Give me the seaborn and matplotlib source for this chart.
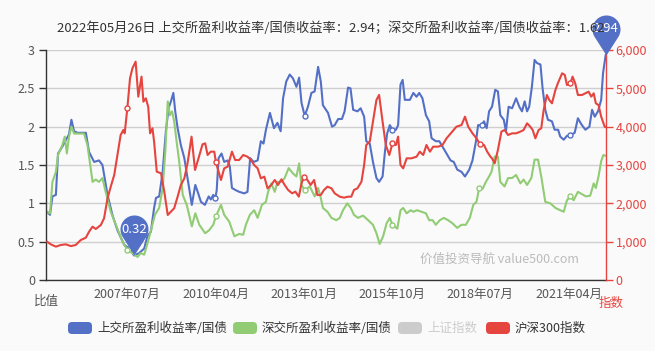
import numpy as np
import pandas as pd
import matplotlib
matplotlib.use('Agg')
import matplotlib.pyplot as plt
import matplotlib.dates as mdates
from matplotlib.path import Path
from matplotlib.patches import FancyBboxPatch
from matplotlib.transforms import IdentityTransform
from matplotlib.ticker import FuncFormatter
import seaborn as sns

sns.set_style('white')
plt.rcParams['font.family'] = ['Noto Sans CJK SC', 'DejaVu Sans']
plt.rcParams['axes.unicode_minus'] = False

# ---------------- data (months since 2005-01) ----------------
blue_m = [0.0, 1.1, 2.0, 3.3, 4.1, 5.7, 7.4, 8.2, 9.1, 10.1,
          11.4, 14.5, 15.7, 17.6, 19.4, 20.7, 22.6, 24.4, 26.3, 28.8,
          30.7, 32.5, 34.4, 36.3, 37.5, 38.8, 40.0, 40.7, 41.9, 43.2,
          44.4, 45.4, 46.3, 47.2, 47.9, 48.8, 50.0, 51.3, 52.5, 54.1,
          55.4, 56.3, 57.5, 59.0, 60.4, 61.2, 62.1, 62.9, 63.4, 64.1,
          65.2, 66.2, 67.5, 68.3, 69.1, 70.6, 71.8, 73.7, 74.9, 75.9,
          77.2, 78.7, 79.9, 80.9, 81.8, 83.3, 84.8, 86.1, 87.3, 88.2,
          89.4, 90.7, 91.9, 93.2, 94.2, 95.1, 96.3, 97.5, 98.8, 100.0,
          101.3, 102.3, 103.1, 105.0, 106.5, 107.5, 108.8, 110.2, 111.2, 112.5,
          113.4, 114.4, 116.0, 117.2, 118.5, 119.3, 120.6, 121.8, 123.1, 124.1,
          125.4, 126.3, 127.1, 128.1, 129.1, 130.4, 131.2, 132.1, 132.9, 133.7,
          135.6, 136.9, 138.1, 139.1, 140.3, 141.6, 142.8, 143.7, 145.3, 146.6,
          148.1, 149.6, 150.8, 152.0, 153.3, 154.9, 156.2, 157.8, 159.0, 160.3,
          161.1, 162.4, 163.3, 164.3, 165.2, 166.3, 167.5, 168.5, 169.4, 170.7,
          171.5, 172.5, 173.8, 175.3, 176.5, 177.5, 178.5, 179.4, 180.2, 181.2,
          182.2, 183.1, 184.4, 185.2, 186.2, 187.2, 188.7, 189.7, 191.0, 191.8,
          193.1, 194.3, 195.6, 197.2, 198.4, 199.7, 201.2, 202.7, 203.7, 204.7,
          205.9, 207.1, 207.8, 208.8]
blue_v = [0.89, 0.85, 1.09, 1.11, 1.65, 1.74, 1.85, 1.90, 2.09, 1.94,
          1.92, 1.92, 1.67, 1.54, 1.56, 1.50, 1.11, 0.85, 0.65, 0.46,
          0.41, 0.32, 0.35, 0.41, 0.57, 0.63, 0.94, 1.07, 1.09, 1.41,
          1.94, 2.24, 2.33, 2.44, 2.20, 1.98, 1.76, 1.59, 1.33, 0.98,
          1.24, 1.15, 1.02, 0.98, 1.09, 1.05, 1.11, 1.07, 1.17, 1.59,
          1.65, 1.54, 1.56, 1.48, 1.20, 1.17, 1.15, 1.13, 1.15, 1.59,
          1.54, 1.56, 1.81, 1.78, 1.96, 2.18, 1.98, 2.05, 1.94, 2.37,
          2.59, 2.68, 2.63, 2.52, 2.64, 2.31, 2.14, 2.26, 2.44, 2.46,
          2.78, 2.59, 2.28, 2.18, 2.00, 2.02, 2.10, 2.10, 2.20, 2.51,
          2.50, 2.22, 2.20, 2.24, 2.13, 1.81, 1.78, 1.54, 1.33, 1.28,
          1.35, 1.68, 1.91, 2.02, 1.96, 1.96, 2.02, 2.55, 2.61, 2.35,
          2.35, 2.44, 2.39, 2.44, 2.37, 2.15, 2.07, 1.85, 1.81, 1.81,
          1.72, 1.63, 1.56, 1.54, 1.44, 1.41, 1.35, 1.44, 1.56, 1.81,
          2.02, 2.02, 2.07, 1.98, 2.20, 2.26, 2.48, 2.46, 2.15, 2.09,
          1.94, 2.26, 2.24, 2.37, 2.26, 2.20, 2.33, 2.20, 2.26, 2.52,
          2.87, 2.83, 2.81, 2.50, 2.22, 2.09, 2.07, 1.96, 1.96, 1.87,
          1.83, 1.88, 1.89, 1.92, 2.11, 2.03, 1.96, 2.00, 2.22, 2.13,
          2.20, 2.35, 2.70, 2.94]

green_m = [0.0, 1.1, 2.0, 3.3, 4.1, 5.7, 6.6, 7.4, 8.2, 9.1,
           10.1, 13.8, 15.1, 17.0, 18.2, 19.4, 20.7, 21.9, 23.8, 26.3,
           28.2, 30.0, 31.9, 33.8, 35.0, 36.3, 38.1, 40.3, 41.9, 43.2,
           44.2, 45.1, 45.9, 46.7, 47.5, 48.4, 49.4, 50.7, 52.2, 54.1,
           55.4, 56.9, 59.1, 60.6, 62.1, 63.1, 65.0, 66.2, 68.1, 70.0,
           71.8, 73.3, 74.3, 75.8, 77.4, 78.7, 80.3, 81.8, 82.6, 83.8,
           85.1, 86.1, 87.6, 88.8, 90.3, 91.9, 93.2, 94.2, 95.1, 96.3,
           98.2, 100.0, 101.3, 102.3, 103.1, 104.8, 106.3, 108.1, 109.4, 110.6,
           112.2, 113.5, 114.7, 116.2, 118.1, 120.0, 121.8, 123.1, 124.3, 125.6,
           126.9, 128.1, 129.1, 130.9, 132.1, 133.1, 134.4, 135.9, 136.9, 138.3,
           140.0, 141.6, 142.8, 144.1, 145.3, 146.8, 148.3, 149.9, 151.5, 153.3,
           154.9, 156.5, 158.0, 159.3, 160.5, 161.5, 162.8, 164.0, 165.2, 166.1,
           167.3, 168.5, 169.4, 171.0, 172.3, 173.8, 175.3, 176.9, 178.1, 179.4,
           181.0, 182.2, 183.5, 184.7, 186.2, 188.1, 190.0, 191.8, 193.1, 194.3,
           195.6, 196.8, 198.4, 199.9, 201.4, 203.0, 204.3, 205.1, 206.1, 207.1,
           207.9, 208.8]
green_v = [0.89, 0.87, 1.28, 1.41, 1.63, 1.76, 1.87, 1.65, 1.87, 2.00,
           1.91, 1.91, 1.76, 1.28, 1.31, 1.28, 1.33, 1.15, 0.89, 0.67,
           0.50, 0.39, 0.35, 0.30, 0.35, 0.33, 0.55, 0.85, 0.94, 1.20,
           1.68, 2.33, 2.15, 2.20, 2.07, 1.81, 1.54, 1.11, 0.98, 0.70,
           0.87, 0.72, 0.61, 0.65, 0.72, 0.83, 0.98, 0.85, 0.76, 0.57,
           0.60, 0.59, 0.72, 0.85, 0.91, 0.81, 0.98, 1.02, 1.15, 1.26,
           1.15, 1.28, 1.28, 1.33, 1.46, 1.39, 1.35, 1.52, 1.24, 1.17,
           1.22, 1.09, 1.20, 1.07, 0.94, 0.89, 0.81, 0.78, 0.81, 0.91,
           1.00, 0.94, 0.85, 0.81, 0.84, 0.78, 0.72, 0.61, 0.47, 0.57,
           0.74, 0.81, 0.72, 0.67, 0.91, 0.94, 0.87, 0.91, 0.89, 0.91,
           0.89, 0.87, 0.78, 0.78, 0.72, 0.78, 0.81, 0.78, 0.74, 0.68,
           0.72, 0.72, 0.81, 0.98, 1.02, 1.20, 1.19, 1.28, 1.35, 1.41,
           1.61, 1.61, 1.28, 1.22, 1.33, 1.33, 1.37, 1.26, 1.31, 1.24,
           1.33, 1.57, 1.57, 1.35, 1.02, 1.00, 0.94, 0.91, 0.89, 1.04,
           1.09, 1.04, 1.15, 1.12, 1.09, 1.10, 1.26, 1.20, 1.35, 1.55,
           1.63, 1.62]

red_m = [0.0, 1.4, 3.3, 5.1, 7.0, 8.9, 10.7, 12.6, 14.5, 15.7,
         17.0, 18.2, 20.1, 21.3, 22.6, 23.8, 25.1, 26.3, 27.5, 28.5,
         29.0, 30.0, 31.0, 31.9, 33.1, 34.1, 35.3, 36.0, 36.9, 37.8,
         38.5, 39.4, 40.0, 41.0, 42.6, 43.8, 45.1, 46.3, 47.5, 48.8,
         50.0, 51.3, 52.5, 54.0, 55.3, 56.6, 58.1, 59.1, 60.0, 61.2,
         62.5, 63.1, 65.0, 66.2, 67.5, 69.1, 70.3, 71.8, 73.3, 74.9,
         76.2, 77.4, 78.7, 79.9, 81.2, 82.4, 83.8, 85.1, 86.3, 87.6,
         88.8, 90.1, 91.6, 92.8, 94.1, 95.1, 96.1, 97.3, 98.5, 99.8,
         101.0, 102.3, 103.5, 104.8, 106.3, 107.5, 109.4, 111.0, 112.5, 113.7,
         114.7, 116.0, 117.5, 118.5, 119.3, 120.6, 121.8, 123.1, 124.1, 125.4,
         126.6, 127.9, 129.1, 130.4, 131.2, 132.1, 133.1, 134.4, 136.2, 138.1,
         139.3, 140.6, 141.8, 143.1, 144.3, 146.2, 147.8, 149.3, 151.2, 153.0,
         154.9, 156.2, 157.4, 159.0, 160.5, 161.8, 163.3, 164.5, 165.7, 166.3,
         167.3, 168.5, 169.8, 171.0, 172.3, 173.8, 175.3, 176.9, 178.1, 179.4,
         180.6, 181.5, 182.5, 183.7, 184.7, 185.6, 186.8, 187.7, 188.7, 190.0,
         190.9, 192.5, 193.5, 194.3, 195.6, 196.4, 197.4, 198.4, 199.9, 201.2,
         202.4, 203.4, 204.3, 205.1, 206.1, 207.1, 208.4, 208.8]
red_v = [1000, 930, 870, 913, 930, 885, 913, 1043, 1104, 1261,
         1392, 1331, 1435, 1609, 2131, 2435, 2740, 3261, 3783, 3913,
         3826, 4479, 5261, 5522, 5696, 4783, 5305, 4652, 4740, 4522,
         3826, 3957, 3609, 2826, 2783, 2305, 1696, 1783, 1870, 2174,
         2478, 2652, 3044, 3739, 2870, 3174, 3540, 3565, 3261, 3348,
         3348, 3070, 2609, 2913, 2957, 3348, 3130, 3130, 3261, 3217,
         3130, 3000, 2913, 2652, 2696, 2391, 2478, 2609, 2478, 2626,
         2478, 2348, 2261, 2305, 2174, 2522, 2696, 2609, 2478, 2609,
         2217, 2217, 2348, 2435, 2391, 2261, 2174, 2148, 2174, 2174,
         2348, 2391, 2565, 3000, 3522, 3609, 4131, 4696, 4827, 4131,
         3522, 3261, 3565, 3522, 3739, 3000, 2913, 3174, 3174, 3217,
         3348, 3261, 3522, 3348, 3478, 3478, 3522, 3696, 3852, 4000,
         4043, 4261, 4000, 3826, 3696, 3540, 3522, 3348, 3217, 3174,
         3044, 3391, 3870, 3913, 3783, 3826, 3826, 3870, 3913, 4087,
         4000, 3913, 3696, 3913, 3957, 4435, 4826, 4696, 4609, 4957,
         5131, 5392, 5348, 5087, 5131, 5305, 5131, 4826, 4826, 4870,
         4913, 4783, 4870, 4609, 4565, 4261, 4000, 3985]

tick_labels_dates = ['2007-07-01', '2010-04-01', '2013-01-01', '2015-10-01', '2018-07-01', '2021-04-01']
last_date = '2022-05-26'
legend_labels = ['上交所盈利收益率/国债', '深交所盈利收益率/国债', '上证指数', '沪深300指数']

BLUE, GREEN, GREY, RED = '#5470c6', '#91cc75', '#cccccc', '#e5443f'

base = pd.Timestamp('2005-01-01')
def to_dates(ms):
    return base + pd.to_timedelta(np.asarray(ms, dtype=float) * 30.4375, unit='D')

blue_d, green_d, red_d = to_dates(blue_m), to_dates(green_m), to_dates(red_m)
tick_d = pd.to_datetime(tick_labels_dates)

def nearest_idx(dates):
    return sorted({int(np.argmin(np.abs((dates - t).total_seconds()))) for t in tick_d})

# ---------------- figure ----------------
W, H = 655, 351
fig = plt.figure(figsize=(W / 100, H / 100), dpi=100, facecolor='#fafafa')
L, R, T, B = 46, 606, 50, 280
ax = fig.add_axes([L / W, 1 - B / H, (R - L) / W, (B - T) / H])
ax.set_facecolor('none')
ax2 = ax.twinx()

lw = 1.5
mk = dict(marker='o', markersize=3.6, markerfacecolor='white', markeredgewidth=1.0)
sns.lineplot(x=blue_d, y=blue_v, ax=ax, color=BLUE, linewidth=lw, errorbar=None,
             markevery=nearest_idx(blue_d), markeredgecolor=BLUE, **mk)
sns.lineplot(x=green_d, y=green_v, ax=ax, color=GREEN, linewidth=lw, errorbar=None,
             markevery=nearest_idx(green_d), markeredgecolor=GREEN, **mk)
sns.lineplot(x=red_d, y=red_v, ax=ax2, color=RED, linewidth=lw, errorbar=None,
             markevery=nearest_idx(red_d), markeredgecolor=RED, **mk)

xmin = base + pd.to_timedelta(-0.4 * 30.4375, unit='D')
xmax = base + pd.to_timedelta(208.9 * 30.4375, unit='D')
ax.set_xlim(xmin, xmax)
ax.set_ylim(0, 3)
ax2.set_ylim(0, 6000)
ax.set_yticks(np.arange(0, 3.01, 0.5))
ax2.set_yticks(np.arange(0, 6001, 1000))
ax.yaxis.set_major_formatter(FuncFormatter(lambda v, p: f'{v:g}'))
ax2.yaxis.set_major_formatter(FuncFormatter(lambda v, p: f'{int(v):,}'))
ax.set_xticks(tick_d)
ax.xaxis.set_major_formatter(mdates.DateFormatter('%Y年%m月'))
ax.set_xlabel('')
ax.set_ylabel('')
ax2.set_ylabel('')

ax.grid(axis='y', color='#cfcfcf', linewidth=1)
ax.grid(axis='x', visible=False)
ax.set_axisbelow(True)

for s in ['top', 'right']:
    ax.spines[s].set_visible(False)
for s in ['left', 'bottom']:
    ax.spines[s].set_color('#333333')
    ax.spines[s].set_linewidth(1)
for s in ['top', 'left', 'bottom']:
    ax2.spines[s].set_visible(False)
ax2.spines['right'].set_color(RED)
ax2.spines['right'].set_linewidth(1)

ax.tick_params(axis='y', direction='out', length=5, width=1, color='#333333',
               labelcolor='#555555', labelsize=9, pad=3)
ax.tick_params(axis='x', direction='out', length=5, width=1, color='#333333',
               labelcolor='#555555', labelsize=9, pad=1)
ax2.tick_params(axis='y', direction='out', length=5, width=1, color=RED,
                labelcolor=RED, labelsize=9, pad=2)

# ---------------- pins (min / max of blue series) ----------------
ax3 = ax.twinx()
ax3.set_ylim(0, 3)
ax3.axis('off')

def pin_path():
    r, c = 1.0, 1.857
    alpha = np.arccos(r / c)
    a0 = -np.pi / 2 + alpha
    a1 = -np.pi / 2 - alpha + 2 * np.pi
    ang = np.linspace(a0, a1, 80)
    verts = [(0, 0)] + [(r * np.cos(a), c + r * np.sin(a)) for a in ang] + [(0, 0)]
    codes = [Path.MOVETO] + [Path.LINETO] * len(ang) + [Path.CLOSEPOLY]
    return Path(verts, codes)

PIN = pin_path()
for i in [int(np.argmin(blue_v)), int(np.argmax(blue_v))]:
    ax3.plot([blue_d[i]], [blue_v[i]], marker=PIN, markersize=57.6, color=BLUE,
             markeredgecolor='none', linestyle='none', clip_on=False, zorder=10)
    ax3.annotate(f'{blue_v[i]:.2f}', xy=(blue_d[i], blue_v[i]), xytext=(0, 26 * 0.72),
                 textcoords='offset points', ha='center', va='center', color='white',
                 fontsize=9.5, annotation_clip=False, zorder=11)
ax3.set_xlim(xmin, xmax)

# ---------------- texts ----------------
title = (f'{pd.Timestamp(last_date):%Y年%m月%d日} 上交所盈利收益率/国债收益率：{blue_v[-1]:.2f}；'
         f'深交所盈利收益率/国债收益率：{green_v[-1]:.2f}')
fig.text(57 / W, 1 - 28 / H, title, ha='left', va='center', fontsize=9.5, color='#333333', zorder=1)
fig.text(46 / W, 1 - 301 / H, '比值', ha='center', va='center', fontsize=9, color='#555555')
fig.text(611 / W, 1 - 303 / H, '指数', ha='center', va='center', fontsize=9, color=RED)
fig.text(420 / W, 1 - 259 / H, '价值投资导航 value500.com', ha='left', va='center',
         fontsize=9, color='#bbbbbb')

# ---------------- legend ----------------
leg_x = [68, 233, 398, 486]
leg_colors = [BLUE, GREEN, GREY, RED]
leg_text_colors = ['#333333', '#333333', '#cccccc', '#333333']
for x0, c, tc, lab in zip(leg_x, leg_colors, leg_text_colors, legend_labels):
    p = FancyBboxPatch((x0, H - 334), 24, 12, boxstyle='round,pad=0,rounding_size=4',
                       transform=IdentityTransform(), facecolor=c, edgecolor='none')
    fig.patches.append(p)
    fig.text((x0 + 29) / W, 1 - 328 / H, lab, ha='left', va='center', fontsize=9, color=tc)

fig.savefig('out.png', dpi=100, facecolor=fig.get_facecolor())
